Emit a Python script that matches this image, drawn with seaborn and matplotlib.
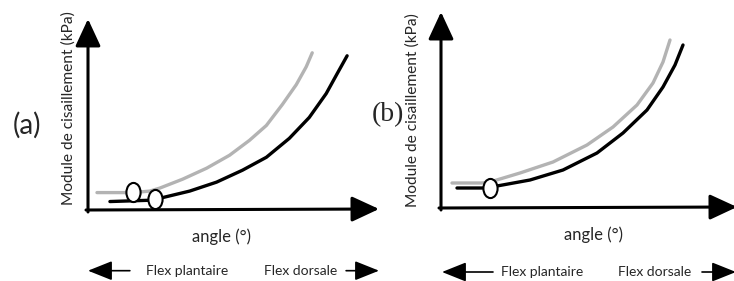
import numpy as np
import pandas as pd
import matplotlib
matplotlib.use("Agg")
import matplotlib.pyplot as plt
from matplotlib.path import Path
import seaborn as sns

# schematic curves (arbitrary units)
a_grey_x = [9, 45, 62, 72, 95, 119, 142, 162, 179, 195, 209, 219, 225]
a_grey_y = [17.5, 17.5, 19, 22, 31, 42, 55, 70, 85, 106, 126, 144, 158]
a_black_x = [22, 68, 75, 102, 129, 155, 179, 202, 222, 239, 250, 260]
a_black_y = [8.5, 10, 12.5, 19, 28, 40, 53, 72, 93, 117, 137, 155]
a_marks_x = [45.5, 67.5]
a_marks_y = [18, 11]

b_grey_x = [11, 41, 49, 79, 112, 146, 172, 196, 212, 222, 229]
b_grey_y = [25, 25, 26, 35, 46, 63, 81, 103, 125, 146, 168]
b_black_x = [16, 48, 56, 89, 122, 156, 182, 206, 222, 234, 242]
b_black_y = [20, 20, 22, 28, 38, 55, 75, 98, 121, 143, 163]
b_marks_x = [48.5]
b_marks_y = [20.5]

panel_labels = ["(a)", "(b)"]
ylab = "Module de cisaillement (kPa)"
xlab = "angle (°)"
left_txt = "Flex plantaire"
right_txt = "Flex dorsale"

sns.set_theme(style="white")
plt.rcParams["font.family"] = ["Lato", "DejaVu Sans"]

GREY = "#b3b3b3"
ellipse = Path(Path.unit_circle().vertices * [1.0, 1.35], Path.unit_circle().codes)

fig = plt.figure(figsize=(7.34, 2.81), dpi=100)
ax_a = fig.add_axes([88 / 734, 71 / 281, 292 / 734, 195 / 281])
ax_b = fig.add_axes([441 / 734, 73 / 281, 293 / 734, 196 / 281])

panels = [
    (ax_a, a_grey_x, a_grey_y, a_black_x, a_black_y, a_marks_x, a_marks_y),
    (ax_b, b_grey_x, b_grey_y, b_black_x, b_black_y, b_marks_x, b_marks_y),
]

# per-panel label placement (data units of each panel)
cfg = [
    dict(lab=(-61, 85), lab_font="Lato", ylab=(-20, 102), xlab=(134, -27), row=-61,
         la=(42, 0), ra=(259, 292), lt=99.5, rt=213.5, ytip=192, xtip=292),
    dict(lab=(-53, 93), lab_font="Liberation Serif", ylab=(-28, 98), xlab=(153, -27), row=-64,
         la=(52, 1), ra=(261, 295), lt=101.5, rt=214, ytip=196, xtip=296),
]

for (ax, gx, gy, bx, by, mx, my), c, plab in zip(panels, cfg, panel_labels):
    ax.set_xlim(0, 293)
    ax.set_ylim(0, 196)
    sns.lineplot(x=gx, y=gy, ax=ax, color=GREY, lw=2.4, sort=False, estimator=None)
    sns.lineplot(x=bx, y=by, ax=ax, color="black", lw=2.4, sort=False, estimator=None)
    for ln in ax.lines:
        ln.set_solid_joinstyle("round")
        ln.set_solid_capstyle("round")
    sns.scatterplot(x=mx, y=my, ax=ax, marker=ellipse, s=190, color="white",
                    edgecolor="black", linewidth=1.5, zorder=5, clip_on=False)
    ax.set_axis_off()

    big = dict(arrowstyle="-|>,head_length=1.4,head_width=0.65", lw=2.2,
               color="black", shrinkA=0, shrinkB=0)
    ax.annotate("", xy=(0, c["ytip"]), xytext=(0, -2), arrowprops=big,
                annotation_clip=False)
    ax.annotate("", xy=(c["xtip"], 1), xytext=(-2, 0), arrowprops=big,
                annotation_clip=False)

    small = dict(arrowstyle="-|>,head_length=1.25,head_width=0.5", lw=1.2,
                 color="black", shrinkA=0, shrinkB=0)
    ax.annotate("", xy=(c["la"][1], c["row"]), xytext=(c["la"][0], c["row"]),
                arrowprops=small, annotation_clip=False)
    ax.annotate("", xy=(c["ra"][1], c["row"]), xytext=(c["ra"][0], c["row"]),
                arrowprops=small, annotation_clip=False)

    ax.text(*c["lab"], plab, fontsize=20, ha="center", va="center",
            family=c["lab_font"], clip_on=False)
    ax.text(*c["ylab"], ylab, fontsize=11.2, rotation=90, ha="center", va="center",
            clip_on=False)
    ax.text(*c["xlab"], xlab, fontsize=12, ha="center", va="center", clip_on=False)
    ax.text(c["lt"], c["row"], left_txt, fontsize=10, ha="center", va="center",
            clip_on=False)
    ax.text(c["rt"], c["row"], right_txt, fontsize=10, ha="center", va="center",
            clip_on=False)

fig.savefig("out.png", dpi=100, facecolor="white")
